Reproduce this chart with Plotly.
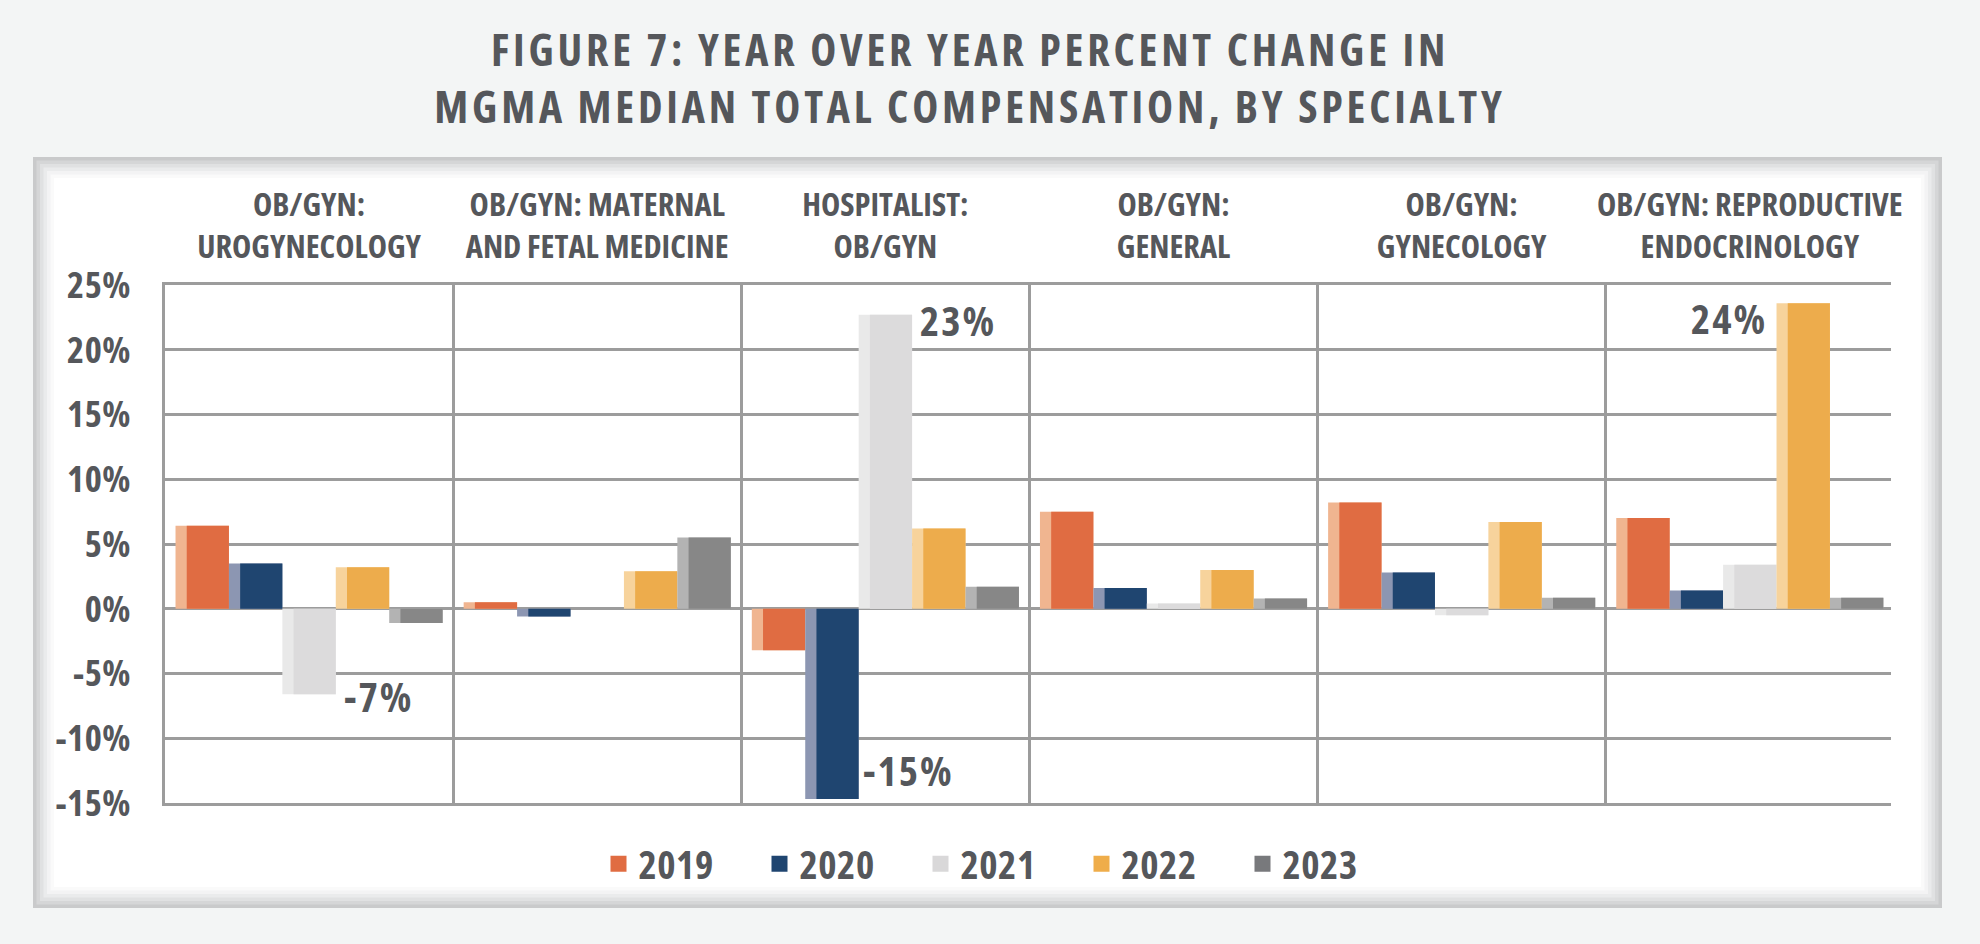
import plotly.graph_objects as go

# Specialties (top category labels) and years
specialties = [
    "OB/GYN:<br>UROGYNECOLOGY",
    "OB/GYN: MATERNAL<br>AND FETAL MEDICINE",
    "HOSPITALIST:<br>OB/GYN",
    "OB/GYN:<br>GENERAL",
    "OB/GYN:<br>GYNECOLOGY",
    "OB/GYN: REPRODUCTIVE<br>ENDOCRINOLOGY",
]
years = ["2019", "2020", "2021", "2022", "2023"]

# Year over year percent change
chg_2019 = [6.4, 0.5, -3.2, 7.5, 8.2, 7.0]
chg_2020 = [3.5, -0.6, -14.7, 1.6, 2.8, 1.4]
chg_2021 = [-6.6, 0.0, 22.7, 0.4, -0.5, 3.4]
chg_2022 = [3.2, 2.9, 6.2, 3.0, 6.7, 23.6]
chg_2023 = [-1.1, 5.5, 1.7, 0.8, 0.85, 0.85]
series = [chg_2019, chg_2020, chg_2021, chg_2022, chg_2023]

y_ticks = [-15, -10, -5, 0, 5, 10, 15, 20, 25]
y_tick_labels = ["-15%", "-10%", "-5%", "0%", "5%", "10%", "15%", "20%", "25%"]

title_lines = ["FIGURE 7: YEAR OVER YEAR PERCENT CHANGE IN",
               "MGMA MEDIAN TOTAL COMPENSATION, BY SPECIALTY"]

# labelled bars: (specialty index, year index)
labelled = [(0, 2), (2, 1), (2, 2), (5, 3)]

# Colours: front face and lighter side face for each year
front_colors = ["#e06c42", "#1f4570", "#dcdbdc", "#edac4c", "#878787"]
side_colors = ["#f0b590", "#8c96b2", "#e9e9e9", "#f7d39c", "#b3b3b3"]
legend_colors = ["#e06c42", "#1f4570", "#d9d8d9", "#efad4a", "#78797c"]

TEXT = "#55575b"
GRID = "#9c9c9c"
FONT = "Open Sans, Roboto, DejaVu Sans Condensed, sans-serif"

W, H = 1980, 944
L, R, T, B = 165, 89, 285, 141


def px_x(p):
    return (p - L) / (W - L - R)


def px_y(p):
    return (H - B - p) / (H - T - B)


def cond(text, spacing=0):
    # condensed face of the font, one span per line
    style = "font-stretch:75%%;letter-spacing:%spx" % spacing
    return "<br>".join('<span style="%s">%s</span>' % (style, t) for t in text.split("<br>"))


gap = 0.073
slot = (1 - gap) / len(years)
side = slot * 0.21

fig = go.Figure()

for k, year in enumerate(years):
    off = -0.5 + gap / 2 + k * slot
    fig.add_trace(go.Bar(
        x=specialties, y=series[k], offset=off, width=slot,
        marker=dict(color=side_colors[k], line=dict(width=0)),
        showlegend=False, hoverinfo="skip"))
    fig.add_trace(go.Bar(
        x=specialties, y=series[k], offset=off + side, width=slot - side,
        marker=dict(color=front_colors[k], line=dict(width=0)),
        name=year, showlegend=False))

# legend entries with square swatches
for k, year in enumerate(years):
    fig.add_trace(go.Scatter(
        x=[None], y=[None], mode="markers", name=cond(year, 0.5),
        marker=dict(symbol="square", size=16, color=legend_colors[k])))

# value labels next to the extreme bars
label_style = {
    (0, 2): dict(side="right", xshift=6, yshift=-2),
    (2, 1): dict(side="right", xshift=2, yshift=29),
    (2, 2): dict(side="right", xshift=6, yshift=-5),
    (5, 3): dict(side="left", xshift=-8, yshift=-15),
}
for i, k in labelled:
    v = series[k][i]
    st = label_style[(i, k)]
    if st["side"] == "right":
        xpos = i - 0.5 + gap / 2 + (k + 1) * slot
        anchor = "left"
    else:
        xpos = i - 0.5 + gap / 2 + k * slot
        anchor = "right"
    fig.add_annotation(
        x=xpos, y=v, text=cond("%d%%" % round(v), 2), showarrow=False,
        xanchor=anchor, yanchor="middle", xshift=st["xshift"], yshift=st["yshift"],
        font=dict(family=FONT, size=41, color=TEXT, weight="bold"))

# white panel with soft inner shadow
shade = ["#c9cacb", "#d5d6d7", "#e0e1e2", "#eaebec", "#f3f3f4", "#fafafa", "#ffffff"]
for j, c in enumerate(shade):
    d = j * 3.5
    fig.add_shape(
        type="rect", xref="paper", yref="paper", layer="below",
        x0=px_x(33 + d), x1=px_x(1942 - d), y0=px_y(908 - d), y1=px_y(157 + d),
        fillcolor=c, line=dict(width=0))

fig.update_layout(
    width=W, height=H,
    margin=dict(l=L, r=R, t=T, b=B, autoexpand=False),
    paper_bgcolor="#f3f5f5",
    plot_bgcolor="#ffffff",
    barmode="overlay",
    title=dict(
        text=cond("<br>".join(title_lines), 3.8),
        x=970 / W, xref="container", xanchor="center",
        y=1 - 66 / H, yref="container", yanchor="middle",
        font=dict(family=FONT, size=44, color=TEXT, weight="bold")),
    legend=dict(
        orientation="h", xref="container", yref="container",
        x=1001 / W, xanchor="center", y=1 - 864 / H, yanchor="middle",
        font=dict(family=FONT, size=39, color=TEXT, weight="bold"),
        entrywidth=116, entrywidthmode="pixels",
        bgcolor="rgba(0,0,0,0)"),
    xaxis=dict(
        type="category", side="top", tickson="boundaries",
        tickvals=specialties, ticktext=[cond(s) for s in specialties],
        range=[-0.5, 5.49], showgrid=True, gridcolor=GRID, gridwidth=2.5,
        ticks="", showline=True, mirror=True, linecolor=GRID, linewidth=2.5,
        zeroline=False, ticklabelstandoff=11,
        tickangle=0, automargin=False,
        tickfont=dict(family=FONT, size=32.5, color=TEXT, weight="bold")),
    yaxis=dict(
        range=[-15, 25], tickvals=y_ticks, ticktext=[cond(t, 0.5) for t in y_tick_labels],
        showgrid=True, gridcolor=GRID, gridwidth=2.5,
        zeroline=True, zerolinecolor=GRID, zerolinewidth=2.5,
        showline=True, linecolor=GRID, linewidth=2.5,
        ticks="", ticklabelstandoff=24, automargin=False,
        tickfont=dict(family=FONT, size=36.5, color=TEXT, weight="bold")),
)

# page body has a default 8px margin; drop it so the figure fills the window
fig.write_html("out.html", config={"displayModeBar": False},
               post_script="document.body.style.margin='0';")
